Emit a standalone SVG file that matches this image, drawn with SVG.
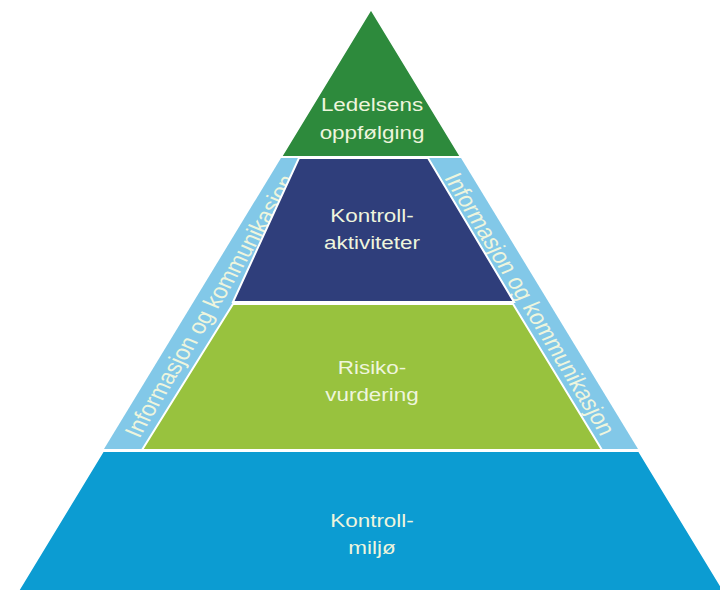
<svg xmlns="http://www.w3.org/2000/svg" width="720" height="590" viewBox="0 0 720 590">
<style>
.lbl{font-family:"Liberation Sans",Arial,sans-serif;font-size:18.7px;fill:#eef5dd;text-anchor:middle}
.band{font-family:"Liberation Sans",Arial,sans-serif;font-size:21px;fill:#eef5dd;text-anchor:middle;dominant-baseline:central}
.sh{stroke:#ffffff;stroke-width:2;stroke-linejoin:miter}
</style>
<rect width="720" height="590" fill="#ffffff"/>
<g id="band-left">
<polygon points="281,158 302,158 236,302 146,449 104,449" fill="#82c8e8"/>
<g transform="translate(210 306) scale(1.2 1) rotate(-63.2)"><text class="band" x="0" y="0">Informasjon og kommunikasjon</text></g>
</g>
<g id="band-right">
<polygon points="461,158 424,158 510,302 598,449 638,449" fill="#82c8e8"/>
<g transform="translate(530 304) scale(1.2 1) rotate(63.2)"><text class="band" x="0" y="0">Informasjon og kommunikasjon</text></g>
</g>
<g id="ledelsens">
<polygon class="sh" points="371,9 461,157 281,157" fill="#2d8a3c"/>
<g transform="translate(372 111) scale(1.2 1)"><text class="lbl" x="0" y="0">Ledelsens</text></g>
<g transform="translate(372 139) scale(1.2 1)"><text class="lbl" x="0" y="0">oppfølging</text></g>
</g>
<g id="kontrollaktiviteter">
<polygon class="sh" points="299,158 428,158 514,302 233,302" fill="#2f3e7b"/>
<g transform="translate(372 222) scale(1.2 1)"><text class="lbl" x="0" y="0">Kontroll-</text></g>
<g transform="translate(372 249) scale(1.2 1)"><text class="lbl" x="0" y="0">aktiviteter</text></g>
</g>
<g id="risikovurdering">
<polygon class="sh" points="233,304 513,304 602,450 142,450" fill="#98c23e"/>
<g transform="translate(372 374) scale(1.2 1)"><text class="lbl" x="0" y="0">Risiko-</text></g>
<g transform="translate(372 401) scale(1.2 1)"><text class="lbl" x="0" y="0">vurdering</text></g>
</g>
<g id="kontrollmiljo">
<polygon class="sh" points="103,451 639,451 724,591 18,591" fill="#0c9cd2"/>
<g transform="translate(372 527) scale(1.2 1)"><text class="lbl" x="0" y="0">Kontroll-</text></g>
<g transform="translate(372 554) scale(1.2 1)"><text class="lbl" x="0" y="0">miljø</text></g>
</g>
<g id="connectors"/>
</svg>
